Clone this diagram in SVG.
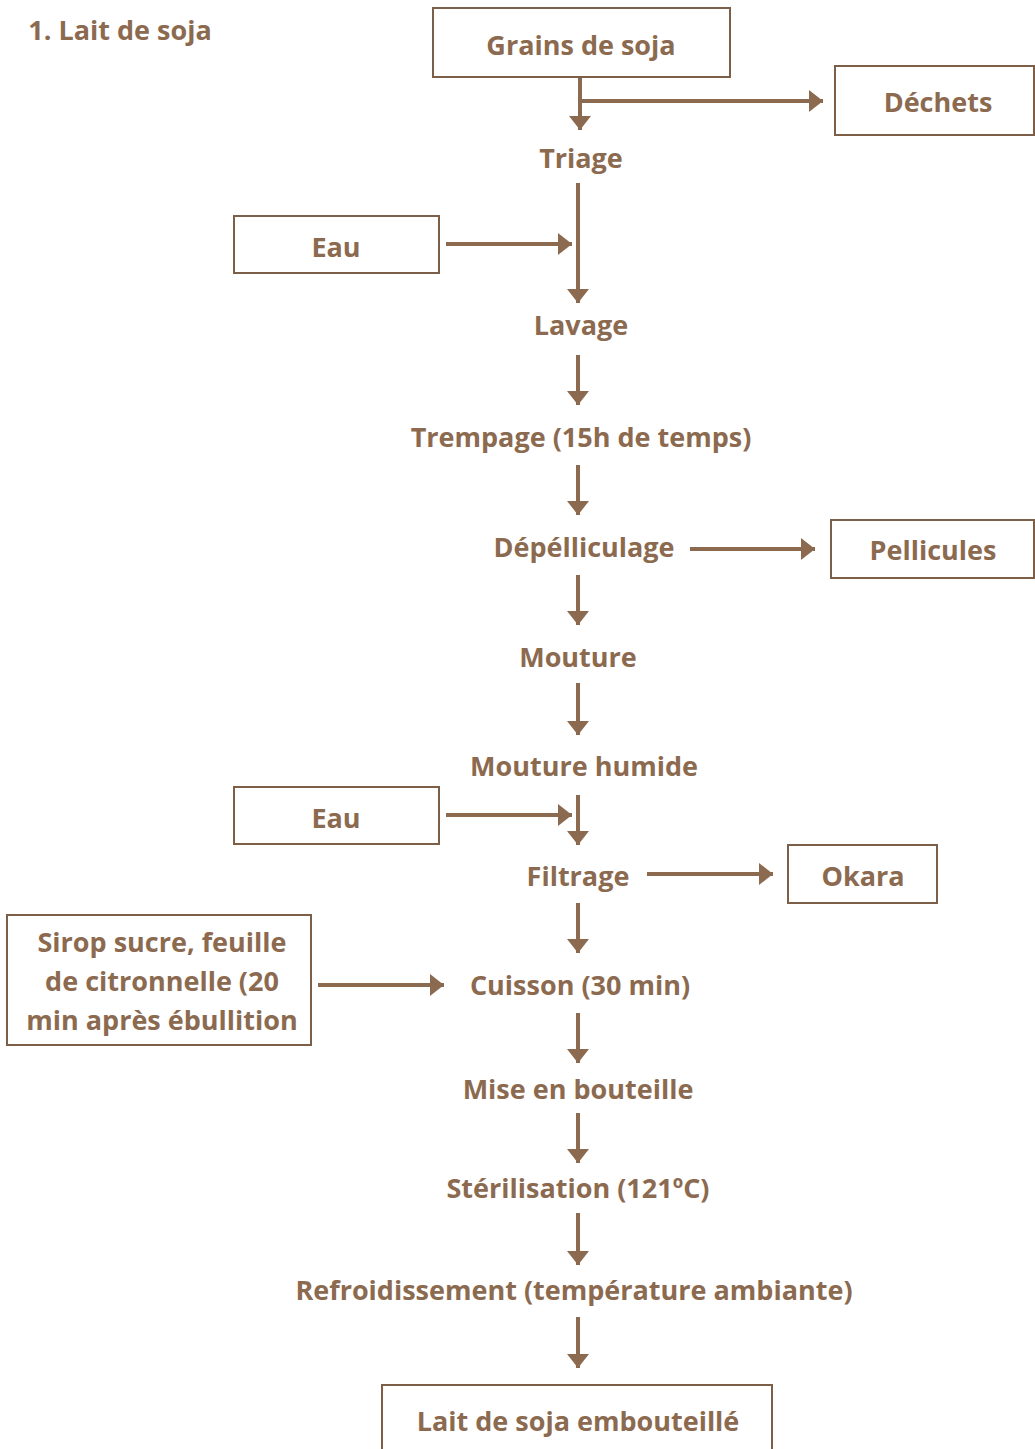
<svg xmlns="http://www.w3.org/2000/svg" width="1035" height="1449" viewBox="0 0 1035 1449">
<defs>
<marker id="ah" markerUnits="userSpaceOnUse" markerWidth="16" markerHeight="24" refX="14" refY="12" orient="auto" viewBox="0 0 16 24">
<path d="M0,1 L14,12 L0,23 Z" fill="#8b6a50"/>
</marker>
<style>
text{font-family:"Open Sans","Liberation Sans",sans-serif;font-weight:bold;font-size:27px;fill:#8b6a50;text-anchor:middle}
.box{fill:#fff;stroke:#7d5f48;stroke-width:2}
.c line{stroke:#8b6a50;stroke-width:4;marker-end:url(#ah)}
</style>
</defs>
<rect width="1035" height="1449" fill="#fff"/>
<text x="120" y="40" style="text-anchor:middle">1. Lait de soja</text>
<g class="c">
<line x1="580" y1="77" x2="580" y2="130"/>
<line x1="580" y1="101" x2="823" y2="101"/>
<line x1="578" y1="183" x2="578" y2="303"/>
<line x1="446" y1="244" x2="572" y2="244"/>
<line x1="578" y1="355" x2="578" y2="405"/>
<line x1="578" y1="465" x2="578" y2="515"/>
<line x1="690" y1="549" x2="815" y2="549"/>
<line x1="578" y1="575" x2="578" y2="625"/>
<line x1="578" y1="683" x2="578" y2="735"/>
<line x1="578" y1="795" x2="578" y2="845"/>
<line x1="446" y1="815" x2="572" y2="815"/>
<line x1="647" y1="874" x2="773" y2="874"/>
<line x1="578" y1="903" x2="578" y2="953"/>
<line x1="318" y1="985" x2="444" y2="985"/>
<line x1="578" y1="1013" x2="578" y2="1063"/>
<line x1="578" y1="1113" x2="578" y2="1163"/>
<line x1="578" y1="1213" x2="578" y2="1265"/>
<line x1="578" y1="1317" x2="578" y2="1368"/>
</g>
<g id="grains"><rect class="box" x="433" y="8" width="297" height="69"/><text x="581" y="55">Grains de soja</text></g>
<g id="dechets"><rect class="box" x="835" y="66" width="199" height="69"/><text x="938" y="112">Déchets</text></g>
<g id="triage"><text x="581" y="168">Triage</text></g>
<g id="eau1"><rect class="box" x="234" y="216" width="205" height="57"/><text x="336" y="257">Eau</text></g>
<g id="lavage"><text x="581" y="335">Lavage</text></g>
<g id="trempage"><text x="581" y="447">Trempage (15h de temps)</text></g>
<g id="depelliculage"><text x="584" y="557">Dépélliculage</text></g>
<g id="pellicules"><rect class="box" x="831" y="520" width="203" height="58"/><text x="933" y="560">Pellicules</text></g>
<g id="mouture"><text x="578" y="667">Mouture</text></g>
<g id="mouture-humide"><text x="584" y="776">Mouture humide</text></g>
<g id="eau2"><rect class="box" x="234" y="787" width="205" height="57"/><text x="336" y="828">Eau</text></g>
<g id="filtrage"><text x="578" y="886">Filtrage</text></g>
<g id="okara"><rect class="box" x="788" y="845" width="149" height="58"/><text x="863" y="886">Okara</text></g>
<g id="sirop"><rect class="box" x="7" y="915" width="304" height="130"/>
<text x="162" y="952">Sirop sucre, feuille</text>
<text x="162" y="991">de citronnelle (20</text>
<text x="162" y="1030">min après ébullition</text></g>
<g id="cuisson"><text x="580" y="995">Cuisson (30 min)</text></g>
<g id="mise"><text x="578" y="1099">Mise en bouteille</text></g>
<g id="sterilisation"><text x="578" y="1198">Stérilisation (121ºC)</text></g>
<g id="refroidissement"><text x="574" y="1300">Refroidissement (température ambiante)</text></g>
<g id="lait"><rect class="box" x="382" y="1385" width="390" height="70"/><text x="578" y="1431">Lait de soja embouteillé</text></g>
</svg>
